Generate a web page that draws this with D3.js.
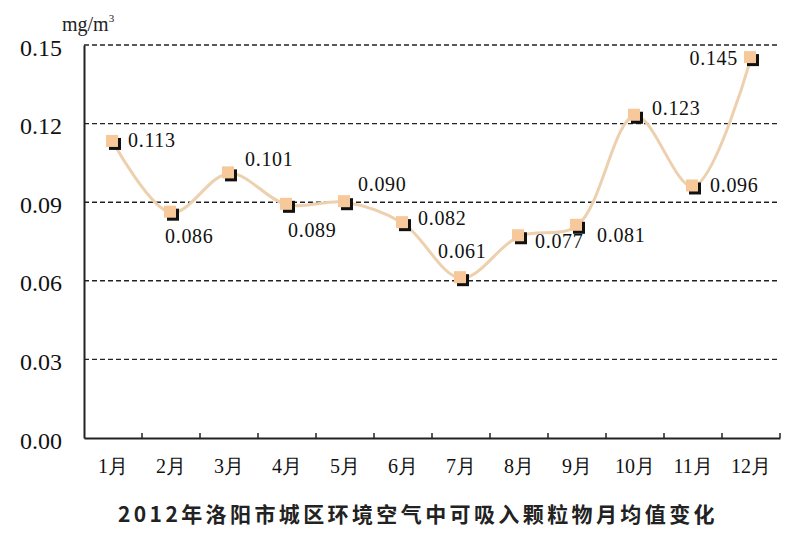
<!DOCTYPE html>
<html>
<head>
<meta charset="utf-8">
<script src="https://cdn.jsdelivr.net/npm/d3@7"></script>
<style>
  html, body { margin: 0; padding: 0; background: #ffffff; }
  svg { display: block; }
</style>
</head>
<body>
<svg id="chart" width="808" height="540"></svg>
<script>
// ---- data ----
const months = ["1月","2月","3月","4月","5月","6月","7月","8月","9月","10月","11月","12月"];
const pm10 = [0.113, 0.086, 0.101, 0.089, 0.090, 0.082, 0.061, 0.077, 0.081, 0.123, 0.096, 0.145];
const yTicks = [0.00, 0.03, 0.06, 0.09, 0.12, 0.15];
const unitLabel = "mg/m";
const title = "2012年洛阳市城区环境空气中可吸入颗粒物月均值变化";

// ---- layout (label placement relative to each point) ----
const labelOffsets = [[15,5],[-6,30],[16,-7],[1,32],[13,-11],[15,2],[-23,-20],[16,12],[20,16],[17,-1],[17,6],[-13,7,"end"]];

const svg = d3.select("#chart");
const mLeft = 84, mRight = 780, mTop = 45, mBottom = 438;
const SERIF = '"Times New Roman"';

const x = d3.scaleBand().domain(months).range([mLeft, mRight]).padding(0);
const y = d3.scaleLinear().domain([0, 0.15]).range([mBottom, mTop]);

// gridlines
svg.append("g").selectAll("line")
  .data(yTicks.filter(d => d > 0))
  .join("line")
  .attr("x1", mLeft).attr("x2", mRight)
  .attr("y1", d => y(d)).attr("y2", d => y(d))
  .attr("stroke", "#222").attr("stroke-width", 1.4)
  .attr("stroke-dasharray", "5,3");

// y axis
const yAxis = d3.axisLeft(y).tickValues(yTicks).tickFormat(d3.format(".2f")).tickSize(0).tickPadding(22);
const gy = svg.append("g").attr("transform", `translate(${mLeft},0)`).call(yAxis);
gy.attr("font-family", null);
gy.select(".domain").attr("stroke", "#222").attr("stroke-width", 2);
gy.selectAll("text").style("font-family", SERIF).style("font-size", "24px").attr("fill", "#111").attr("dy", "0.42em");

// x axis
const xAxis = d3.axisBottom(x).tickSize(0).tickPadding(21);
const gx = svg.append("g").attr("transform", `translate(0,${mBottom})`).call(xAxis);
gx.attr("font-family", null);
gx.select(".domain").attr("stroke", "#222").attr("stroke-width", 2);
gx.selectAll("text").style("font-family", SERIF).style("font-size", "20px").attr("fill", "#111");
// boundary ticks (between categories)
const bounds = months.map(m => x(m)).slice(1).concat([mRight]);
svg.append("g").selectAll("line").data(bounds).join("line")
  .attr("x1", d => d).attr("x2", d => d)
  .attr("y1", mBottom).attr("y2", mBottom - 5)
  .attr("stroke", "#222").attr("stroke-width", 1.5);

// unit label
const unit = svg.append("text").attr("x", 62).attr("y", 31)
  .style("font-family", SERIF).style("font-size", "20px").attr("fill", "#222");
unit.append("tspan").text(unitLabel);
unit.append("tspan").text("3").style("font-size", "11px").attr("dy", -9);

// line
const pts = pm10.map((v, i) => [x(months[i]) + x.bandwidth() / 2, y(v)]);
svg.append("path")
  .datum(pts)
  .attr("d", d3.line().curve(d3.curveCatmullRom.alpha(0.5)))
  .attr("fill", "none")
  .attr("stroke", "#edd0ae")
  .attr("stroke-width", 3);

// markers
const mk = svg.append("g").selectAll("g").data(pts).join("g")
  .attr("transform", d => `translate(${d[0]},${d[1]})`);
mk.append("rect").attr("x", -4).attr("y", -4).attr("width", 12).attr("height", 12).attr("fill", "#111");
mk.append("rect").attr("x", -7).attr("y", -7).attr("width", 12).attr("height", 12).attr("fill", "#f6c89a");

// value labels
svg.append("g").selectAll("text").data(pm10).join("text")
  .attr("x", (d, i) => pts[i][0] + labelOffsets[i][0])
  .attr("y", (d, i) => pts[i][1] + labelOffsets[i][1])
  .attr("text-anchor", (d, i) => labelOffsets[i][2] || "start")
  .style("font-family", SERIF).style("font-size", "20px").style("letter-spacing", "0.7px")
  .attr("fill", "#111")
  .text(d => d3.format(".3f")(d));

// title
svg.append("text").attr("x", 418).attr("y", 522).attr("text-anchor", "middle")
  .style("font-family", '"Noto Sans CJK SC"').style("font-size", "21px").style("font-weight", "bold")
  .style("letter-spacing", "3.4px").attr("fill", "#222")
  .text(title);
</script>
</body>
</html>
